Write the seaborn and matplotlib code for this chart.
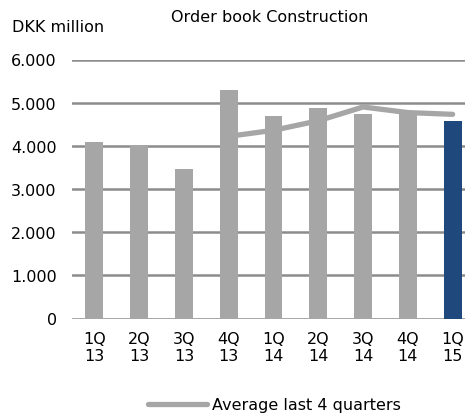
import matplotlib
matplotlib.use("Agg")
import matplotlib.pyplot as plt
import seaborn as sns
import pandas as pd

# data
quarters = ["1Q\n13", "2Q\n13", "3Q\n13", "4Q\n13", "1Q\n14", "2Q\n14", "3Q\n14", "4Q\n14", "1Q\n15"]
order_book = [4100, 4020, 3460, 5290, 4680, 4870, 4740, 4750, 4570]
avg_quarters = ["4Q\n13", "1Q\n14", "2Q\n14", "3Q\n14", "4Q\n14", "1Q\n15"]
avg_last4 = [4220, 4360, 4580, 4900, 4770, 4730]
y_ticks = [0, 1000, 2000, 3000, 4000, 5000, 6000]
y_labels = ["0", "1.000", "2.000", "3.000", "4.000", "5.000", "6.000"]

sns.set_style("white")
plt.rcParams["font.family"] = ["DejaVu Sans"]
plt.rcParams["text.color"] = "black"

df = pd.DataFrame({"quarter": quarters, "value": order_book})
df_avg = pd.DataFrame({"quarter": avg_quarters, "value": avg_last4})

fs = 11.5
fig = plt.figure(figsize=(4.65, 4.14), dpi=100)
# axes runs past the right edge, like the cropped original
ax = fig.add_axes([72 / 465, 1 - 319.5 / 414, 403 / 465, (319.5 - 60.5) / 414])

grey = "#A6A6A6"
colors = [grey] * (len(quarters) - 1) + ["#1F497D"]
sns.barplot(data=df, x="quarter", y="value", hue="quarter", palette=colors,
            legend=False, width=0.4, saturation=1, linewidth=0, ax=ax, zorder=2)

pos = {q: i for i, q in enumerate(quarters)}
df_avg["x"] = df_avg["quarter"].map(pos)
sns.lineplot(data=df_avg, x="x", y="value", color=grey, linewidth=3.8,
             solid_capstyle="round", ax=ax, zorder=3, legend=False)

ax.set_ylim(0, 6000)
ax.set_xlim(-0.5, len(quarters) - 0.5)
ax.set_yticks(y_ticks)
ax.set_yticklabels(y_labels)
ax.yaxis.grid(True, color="#8C8C8C", linewidth=1.8, zorder=0)
ax.set_axisbelow(True)
for s in ax.spines.values():
    s.set_visible(False)
ax.tick_params(axis="both", length=0, labelsize=fs, colors="black")
ax.tick_params(axis="x", pad=9)
ax.tick_params(axis="y", pad=11)
ax.set_xlabel("")
ax.set_ylabel("")

# legend at the bottom
handle = plt.Line2D([], [], color=grey, linewidth=3.8, solid_capstyle="round")
fig.legend([handle], ["Average last 4 quarters"], loc="center left",
           bbox_to_anchor=(148 / 465, 1 - 406 / 414), frameon=False, fontsize=fs,
           handlelength=3.7, handletextpad=0.3, borderpad=0, borderaxespad=0)

fig.text(12 / 465, 1 - 27 / 414, "DKK million", fontsize=fs, va="center", ha="left")
fig.text(270 / 465, 1 - 18 / 414, "Order book Construction", fontsize=fs, va="center", ha="center")

fig.savefig("out.png", dpi=100)
